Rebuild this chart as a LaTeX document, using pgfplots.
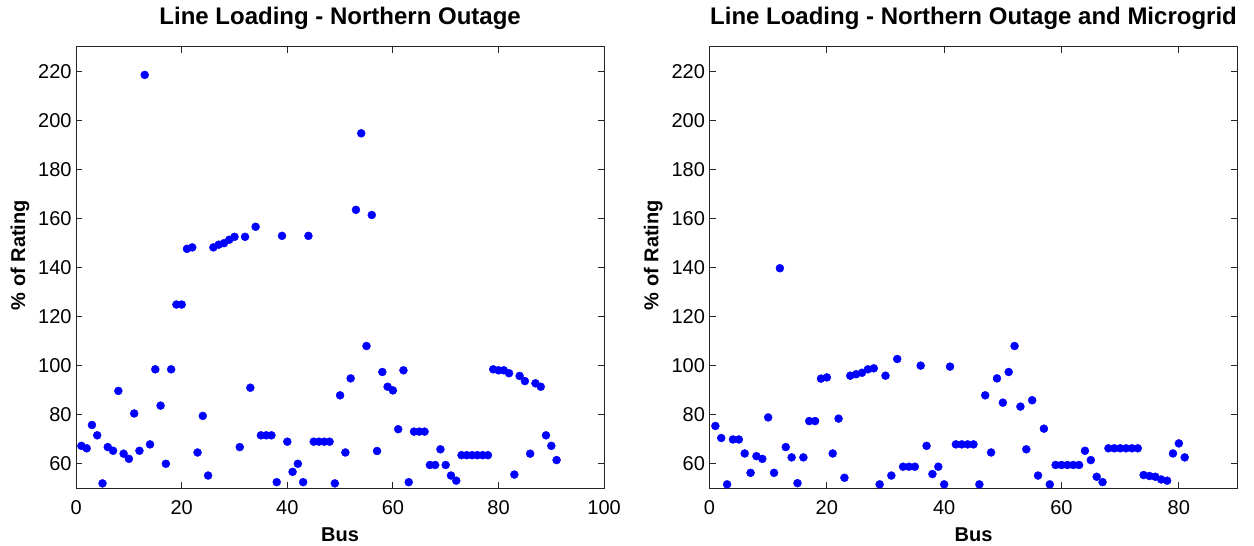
\documentclass[border=0pt]{standalone}
\usepackage{fontspec}
\setmainfont{Liberation Sans}
\usepackage{pgfplots}
\pgfplotsset{compat=1.18}

\pgfplotsset{
  lineload/.style={
    scale only axis,
    width=528pt, height=441.6pt,
    ymin=50, ymax=230,
    ytick={60,80,...,220},
    tick align=inside,
    major tick length=6pt,
    axis line style={black!85, line width=1pt},
    every tick/.style={black!85, line width=1pt},
    /pgf/number format/assume math mode=true,
    tick label style={font=\fontsize{20}{24}\selectfont},
    yticklabel style={anchor=east, inner sep=0pt, xshift=-4.4pt},
    xticklabel style={anchor=north, inner sep=0pt, yshift=-11.7pt},
    title style={font=\fontsize{24}{28}\selectfont\bfseries, anchor=base,
                 at={(axis description cs:0.5,1.0369)}},
    xlabel style={font=\fontsize{20}{24}\selectfont\bfseries, anchor=base,
                  at={(axis description cs:0.5,-0.1209)}},
    ylabel style={font=\fontsize{20}{24}\selectfont\bfseries, anchor=base,
                  at={(axis description cs:-0.0966,0.528)}, rotate=0},
    xlabel={Bus},
    ylabel={\% of Rating},
  },
  busmarks/.style={only marks, mark=*, mark size=4pt, color=blue,
                   mark options={fill=blue, draw=blue}},
}

\begin{document}
\begin{tikzpicture}
\useasboundingbox (0pt,0pt) rectangle (1254pt,546pt);

\begin{axis}[lineload, at={(76.1pt,57.7pt)}, anchor=south west,
  xmin=0, xmax=100, xtick={0,20,...,100},
  title={Line Loading - Northern Outage}]
\addplot[busmarks] table {
x y
1 67.3
2 66.3
3 75.8
4 71.6
5 52.0
6 66.8
7 65.3
8 89.7
9 64.1
10 62.0
11 80.5
12 65.3
13 218.5
14 67.9
15 98.5
16 83.7
17 60.0
18 98.5
19 124.9
20 124.9
21 147.6
22 148.2
23 64.6
24 79.5
25 55.2
26 148.2
27 149.3
28 149.9
29 151.3
30 152.5
31 66.8
32 152.5
33 91.0
34 156.6
35 71.6
36 71.6
37 71.6
38 52.5
39 152.9
40 69.0
41 56.7
42 60.0
43 52.5
44 152.9
45 69.0
46 69.0
47 69.0
48 69.0
49 52.0
50 87.9
51 64.6
52 94.8
53 163.5
54 194.7
55 108.0
56 161.4
57 65.2
58 97.4
59 91.4
60 89.9
61 74.1
62 98.1
63 52.5
64 73.1
65 73.1
66 73.1
67 59.5
68 59.5
69 65.9
70 59.5
71 55.2
72 53.1
73 63.5
74 63.5
75 63.5
76 63.5
77 63.5
78 63.5
79 98.5
80 98.1
81 98.1
82 96.9
83 55.6
84 95.8
85 93.7
86 64.1
87 92.8
88 91.4
89 71.6
90 67.3
91 61.5
};
\end{axis}

\begin{axis}[lineload, at={(709.5pt,57.7pt)}, anchor=south west,
  xmin=0, xmax=90, xtick={0,20,...,80},
  title={Line Loading - Northern Outage and Microgrid}]
\addplot[busmarks] table {
x y
1 75.4
2 70.5
3 51.6
4 69.9
5 69.9
6 64.2
7 56.3
8 63.1
9 62.0
10 78.9
11 56.3
12 139.7
13 66.8
14 62.6
15 52.1
16 62.6
17 77.4
18 77.4
19 94.7
20 95.2
21 64.2
22 78.4
23 54.3
24 95.9
25 96.5
26 97.1
27 98.5
28 98.9
29 51.6
30 95.9
31 55.2
32 102.7
33 58.8
34 58.8
35 58.8
36 100.0
37 67.3
38 55.8
39 58.8
40 51.6
41 99.6
42 67.9
43 67.9
44 67.9
45 67.9
46 51.6
47 87.9
48 64.6
49 94.8
50 84.9
51 97.4
52 108.0
53 83.3
54 65.9
55 85.9
56 55.2
57 74.3
58 51.6
59 59.5
60 59.5
61 59.5
62 59.5
63 59.5
64 65.3
65 61.5
66 54.7
67 52.5
68 66.3
69 66.3
70 66.3
71 66.3
72 66.3
73 66.3
74 55.4
75 55.0
76 54.7
77 53.6
78 53.1
79 64.2
80 68.3
81 62.6
};
\end{axis}
\end{tikzpicture}
\end{document}
